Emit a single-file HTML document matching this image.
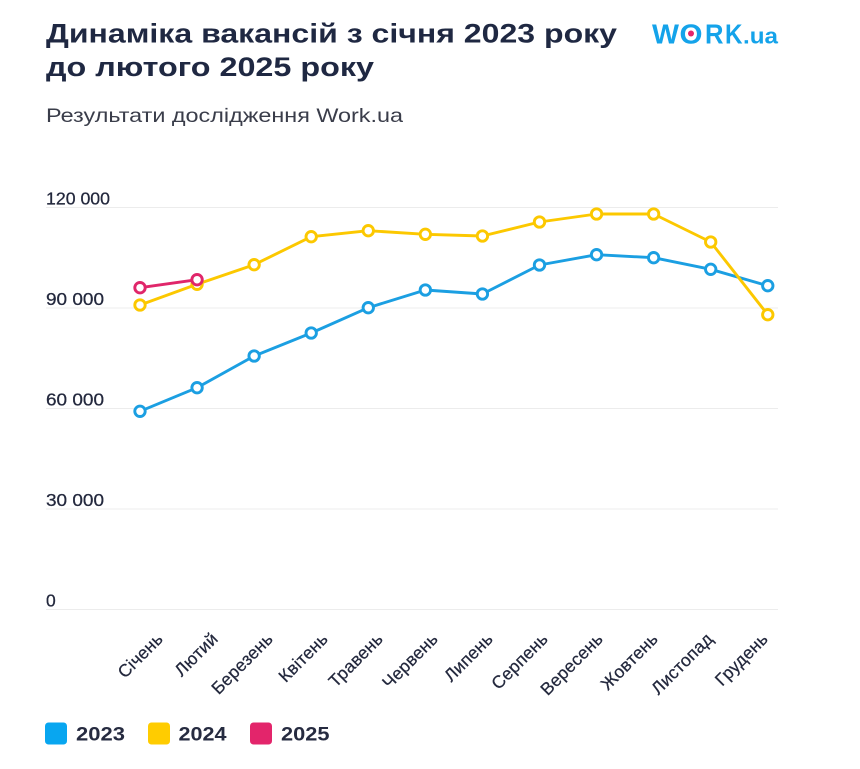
<!DOCTYPE html>
<html>
<head>
<meta charset="utf-8">
<style>
html,body{margin:0;padding:0;background:#fff;}
svg{display:block;}
text{font-family:"Liberation Sans","DejaVu Sans",sans-serif;}
</style>
</head>
<body>
<svg width="860" height="769" viewBox="0 0 860 769" xmlns="http://www.w3.org/2000/svg">
<rect width="860" height="769" fill="#fff"/>
<!-- Title -->
<text x="46" y="42.5" font-size="27" font-weight="bold" fill="#1f2842" textLength="571" lengthAdjust="spacingAndGlyphs">Динаміка вакансій з січня 2023 року</text>
<text x="46" y="76" font-size="27" font-weight="bold" fill="#1f2842" textLength="328" lengthAdjust="spacingAndGlyphs">до лютого 2025 року</text>
<text x="46" y="122" font-size="19.5" fill="#3a3d4a" textLength="357" lengthAdjust="spacingAndGlyphs">Результати дослідження Work.ua</text>
<!-- Logo -->
<g font-weight="bold" fill="#14a3ea">
<text x="652" y="43.3" font-size="27.5" textLength="27" lengthAdjust="spacingAndGlyphs">W</text>
<text x="679.5" y="43.3" font-size="27.5" textLength="23" lengthAdjust="spacingAndGlyphs">O</text>
<text x="705" y="43.3" font-size="27.5" textLength="18.5" lengthAdjust="spacingAndGlyphs">R</text>
<text x="725" y="43.3" font-size="27.5" textLength="17.5" lengthAdjust="spacingAndGlyphs">K</text>
<text x="743" y="43.3" font-size="22" textLength="35" lengthAdjust="spacingAndGlyphs">.ua</text>
</g>
<circle cx="691" cy="33.5" r="3" fill="#e3256b"/>
<!-- Gridlines -->
<g stroke="#ececec" stroke-width="1">
<line x1="46" y1="207.5" x2="778" y2="207.5"/>
<line x1="46" y1="308" x2="778" y2="308"/>
<line x1="46" y1="408.5" x2="778" y2="408.5"/>
<line x1="46" y1="509" x2="778" y2="509"/>
<line x1="46" y1="609.5" x2="778" y2="609.5"/>
</g>
<!-- Y labels -->
<g font-size="17.5" fill="#23283d" stroke="#23283d" stroke-width="0.25">
<text x="46" y="204.5" textLength="64" lengthAdjust="spacingAndGlyphs">120 000</text>
<text x="46" y="305" textLength="58" lengthAdjust="spacingAndGlyphs">90 000</text>
<text x="46" y="405.5" textLength="58" lengthAdjust="spacingAndGlyphs">60 000</text>
<text x="46" y="506" textLength="58" lengthAdjust="spacingAndGlyphs">30 000</text>
<text x="46" y="606.5">0</text>
</g>
<!-- X labels -->
<g font-size="17.5" fill="#23283d" stroke="#23283d" stroke-width="0.25" text-anchor="end" letter-spacing="0.2">
<text transform="translate(164,640) rotate(-45)">Січень</text>
<text transform="translate(219,640) rotate(-45)">Лютий</text>
<text transform="translate(274,640) rotate(-45)">Березень</text>
<text transform="translate(329,640) rotate(-45)">Квітень</text>
<text transform="translate(384,640) rotate(-45)">Травень</text>
<text transform="translate(439,640) rotate(-45)">Червень</text>
<text transform="translate(494,640) rotate(-45)">Липень</text>
<text transform="translate(549,640) rotate(-45)">Серпень</text>
<text transform="translate(604,640) rotate(-45)">Вересень</text>
<text transform="translate(659,640) rotate(-45)">Жовтень</text>
<text transform="translate(714,640) rotate(-45)">Листопад</text>
<text transform="translate(769,640) rotate(-45)">Грудень</text>
</g>
<!-- Series 2023 -->
<g stroke="#1b9fe2" stroke-width="2.9" fill="none" stroke-linejoin="round">
<polyline points="140,411.3 197.07,387.7 254.14,356 311.21,333 368.28,307.7 425.35,290 482.42,294 539.49,265 596.56,254.7 653.63,257.7 710.7,269.3 767.77,285.7"/>
<g fill="#fff">
<circle cx="140" cy="411.3" r="5.2"/><circle cx="197.07" cy="387.7" r="5.2"/><circle cx="254.14" cy="356" r="5.2"/><circle cx="311.21" cy="333" r="5.2"/><circle cx="368.28" cy="307.7" r="5.2"/><circle cx="425.35" cy="290" r="5.2"/><circle cx="482.42" cy="294" r="5.2"/><circle cx="539.49" cy="265" r="5.2"/><circle cx="596.56" cy="254.7" r="5.2"/><circle cx="653.63" cy="257.7" r="5.2"/><circle cx="710.7" cy="269.3" r="5.2"/><circle cx="767.77" cy="285.7" r="5.2"/>
</g>
</g>
<!-- Series 2024 -->
<g stroke="#fcc800" stroke-width="2.9" fill="none" stroke-linejoin="round">
<polyline points="140,305 197.07,284.3 254.14,264.7 311.21,236.7 368.28,230.7 425.35,234.3 482.42,236 539.49,222 596.56,214 653.63,214 710.7,242 767.77,314.7"/>
<g fill="#fff">
<circle cx="140" cy="305" r="5.2"/><circle cx="197.07" cy="284.3" r="5.2"/><circle cx="254.14" cy="264.7" r="5.2"/><circle cx="311.21" cy="236.7" r="5.2"/><circle cx="368.28" cy="230.7" r="5.2"/><circle cx="425.35" cy="234.3" r="5.2"/><circle cx="482.42" cy="236" r="5.2"/><circle cx="539.49" cy="222" r="5.2"/><circle cx="596.56" cy="214" r="5.2"/><circle cx="653.63" cy="214" r="5.2"/><circle cx="710.7" cy="242" r="5.2"/><circle cx="767.77" cy="314.7" r="5.2"/>
</g>
</g>
<!-- Series 2025 -->
<g stroke="#e0266a" stroke-width="2.9" fill="none" stroke-linejoin="round">
<polyline points="140,287.7 197.07,279.7"/>
<g fill="#fff">
<circle cx="140" cy="287.7" r="5.2"/><circle cx="197.07" cy="279.7" r="5.2"/>
</g>
</g>
<!-- Legend -->
<rect x="45" y="722.5" width="22" height="22" rx="3.5" fill="#08a6f0"/>
<rect x="148" y="722.5" width="22" height="22" rx="3.5" fill="#ffcc00"/>
<rect x="250" y="722.5" width="22" height="22" rx="3.5" fill="#e3256b"/>
<g font-size="19.5" font-weight="bold" fill="#262b40">
<text x="76" y="740.5" textLength="49" lengthAdjust="spacingAndGlyphs">2023</text>
<text x="178.5" y="740.5" textLength="48" lengthAdjust="spacingAndGlyphs">2024</text>
<text x="281" y="740.5" textLength="48.5" lengthAdjust="spacingAndGlyphs">2025</text>
</g>
</svg>
</body>
</html>
